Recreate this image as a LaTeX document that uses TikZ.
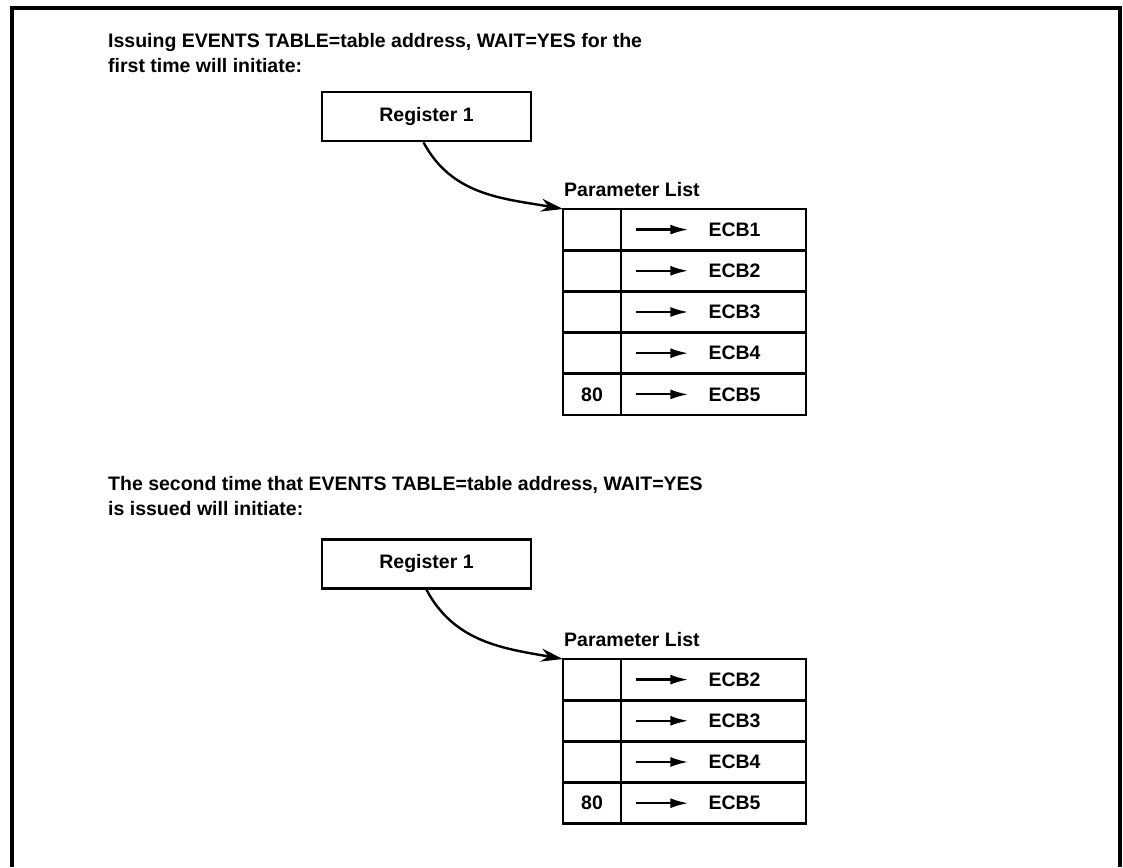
\documentclass[tikz,border=0pt]{standalone}
\usepackage{fontspec}
\setmainfont{Liberation Sans}
\usepackage{tikz}
\usetikzlibrary{positioning, arrows.meta}
\tikzstyle{regbox} = [rectangle, minimum width=209pt, minimum height=49pt, text centered, draw=black, line width=2.6pt]
\tikzstyle{cell} = [rectangle, minimum width=58pt, minimum height=41.2pt, draw=black, line width=2.8pt, inner sep=0pt, outer sep=0pt]
\tikzstyle{widecell} = [cell, minimum width=185pt]
\tikzstyle{ecb} = [inner sep=0pt, inner xsep=20pt]
\tikzstyle{note} = [anchor=north west, align=left, inner sep=0pt]
\tikzstyle{curve} = [line width=2.4pt, -{Stealth[length=22pt, width=13pt]}]
\tikzstyle{ptr} = [line width=2.2pt, -{Latex[length=18pt, width=10pt]}]
\tikzstyle{frame} = [line width=3.2pt]

\begin{document}
\begin{tikzpicture}[x=1pt, y=1pt, font=\bfseries\fontsize{19.5pt}{25pt}\selectfont]
  \useasboundingbox (0,0) rectangle (1123,867);
  \draw [frame] (12,0) -- (12,859) -- (1120,859) -- (1120,0);

  % first call
  \node (intro1) [note] at (108,834) {Issuing EVENTS TABLE=table address, WAIT=YES for the\\first time will initiate:};
  \node (reg1) [regbox] at (426.5,750.5) {Register 1};
  \foreach \i in {1,...,5} {
    \node (a\i) [cell, anchor=north west] at (563,{658-41.2*(\i-1)}) {};
    \node (b\i) [widecell, right=0pt of a\i] {};
    \node (ea\i) [ecb] at ([xshift=21pt]b\i.center) {ECB\i};
    \coordinate (pa\i) at ([xshift=15pt]b\i.west);
    \draw [ptr] (pa\i) -- (ea\i);
  }
  \node (nulla) at (a5.center) {80};
  \node (plist1) [above right=12pt and 1pt of a1.north west, inner sep=0pt] {Parameter List};
  \draw [curve] ([xshift=-3pt]reg1.south) to[out=-62, in=170] (a1.north west);

  % second call
  \node (intro2) [note] at (108,391) {The second time that EVENTS TABLE=table address, WAIT=YES\\is issued will initiate:};
  \node (reg2) [regbox] at (426.5,303) {Register 1};
  \foreach \i in {1,...,4} {
    \pgfmathtruncatemacro{\k}{\i+1}
    \node (c\i) [cell, anchor=north west] at (563,{208-41.2*(\i-1)}) {};
    \node (d\i) [widecell, right=0pt of c\i] {};
    \node (eb\i) [ecb] at ([xshift=21pt]d\i.center) {ECB\k};
    \coordinate (pb\i) at ([xshift=15pt]d\i.west);
    \draw [ptr] (pb\i) -- (eb\i);
  }
  \node (nullb) at (c4.center) {80};
  \node (plist2) [above right=12pt and 1pt of c1.north west, inner sep=0pt] {Parameter List};
  \draw [curve] (reg2.south) to[out=-62, in=170] (c1.north west);
\end{tikzpicture}
\end{document}
